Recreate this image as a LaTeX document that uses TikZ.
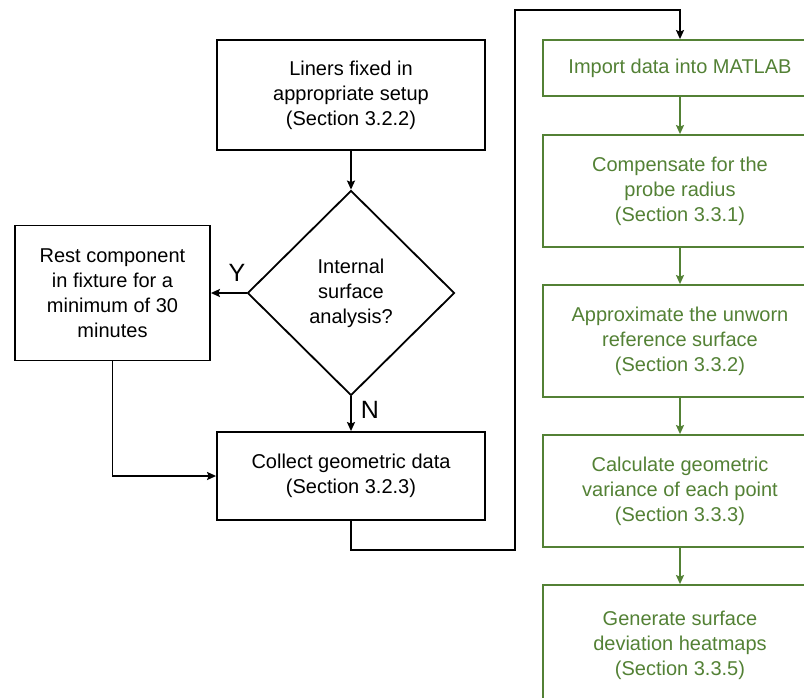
\documentclass[tikz,border=0pt]{standalone}
\usepackage{fontspec}
\setmainfont{Liberation Sans}
\usepackage{xcolor}
\usepackage{tikz}
\usetikzlibrary{arrows.meta,positioning,shapes.geometric}

\definecolor{procgreen}{HTML}{538135}

\begin{document}
\begin{tikzpicture}[
    x=1pt,
    y=-1pt,
    every node/.style={
        font=\fontsize{20}{25}\selectfont,
        align=center,
        inner sep=2pt
    },
    stepbox/.style={
        rectangle,
        draw,
        line width=1.8pt,
        minimum width=268pt,
        minimum height=110pt
    },
    decision/.style={
        diamond,
        draw,
        line width=1.8pt,
        inner sep=0pt,
        minimum width=207pt,
        minimum height=205pt
    },
    greenbox/.style={
        rectangle,
        draw=procgreen,
        text=procgreen,
        line width=1.8pt,
        minimum width=274pt,
        minimum height=112pt
    },
    flow/.style={draw,-{Stealth[length=9pt,width=8pt,inset=1.5pt]},line width=1.8pt},
    greenflow/.style={flow,draw=procgreen,-{Stealth[length=9pt,width=8pt,inset=1.5pt,fill=procgreen]}},
    answer/.style={font=\fontsize{25}{28}\selectfont,inner sep=0pt}
]
\useasboundingbox (0,0) rectangle (804,697);
\clip (0,0) rectangle (804,697);

% measurement side
\node[stepbox] (liners) at (351,95) {Liners fixed in\\appropriate setup\\(Section 3.2.2)};
\node[decision] (query) at (351,293) {Internal\\surface\\analysis?};
\node[stepbox,minimum width=195pt,minimum height=135pt] (rest) at (112.5,293)
    {Rest component\\in fixture for a\\minimum of 30\\minutes};
\node[stepbox,minimum height=88pt] (collect) at (351,476) {Collect geometric data\\(Section 3.2.3)};

\draw[flow] (liners) -- (query);
\draw[flow] (query.west) -- (rest.east);
\draw[flow] (query.south) -- (collect.north);
\node[answer] (yes) at (237,273) {Y};
\node[answer] (no) at (370,410) {N};
\draw[flow] (rest.south) |- (collect.west);

% processing in MATLAB
\node[greenbox,minimum height=56pt] (import) at (680,68) {Import data into MATLAB};
\node[greenbox] (probe) at (680,191) {Compensate for the\\probe radius\\(Section 3.3.1)};
\node[greenbox] (unworn) at (680,341) {Approximate the unworn\\reference surface\\(Section 3.3.2)};
\node[greenbox] (variance) at (680,491) {Calculate geometric\\variance of each point\\(Section 3.3.3)};
\node[greenbox,minimum height=120pt] (heatmap) at (680,645) {Generate surface\\deviation heatmaps\\(Section 3.3.5)};

\coordinate (jog) at (515,550);
\coordinate (over) at (515,10);
\draw[flow] (collect.south) |- (jog) -- (over) -| (import.north);

\draw[greenflow] (import) -- (probe);
\draw[greenflow] (probe) -- (unworn);
\draw[greenflow] (unworn) -- (variance);
\draw[greenflow] (variance) -- (heatmap);
\end{tikzpicture}
\end{document}
